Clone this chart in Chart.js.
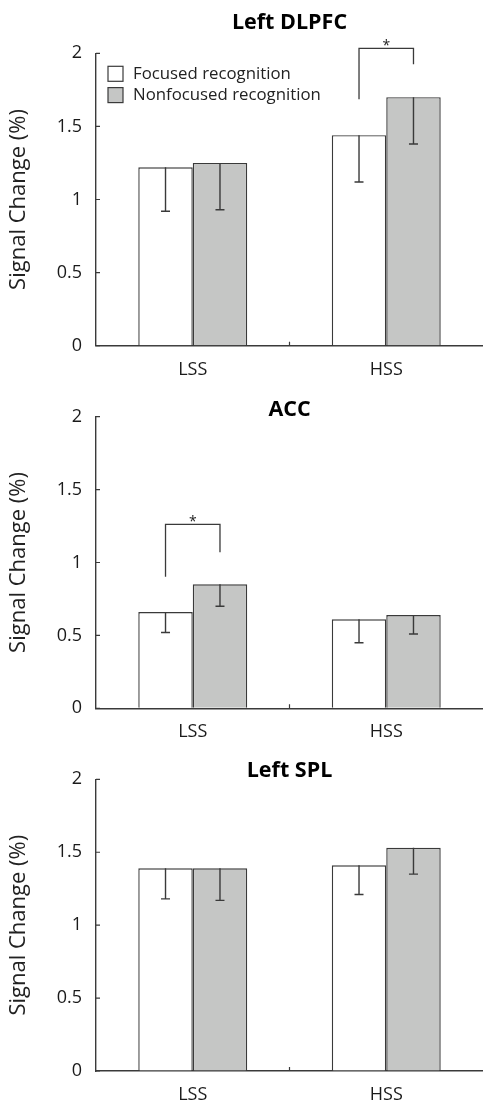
<!DOCTYPE html>
<html>
<head>
<meta charset="utf-8">
<script src="https://cdn.jsdelivr.net/npm/chart.js@4.4.1/dist/chart.umd.min.js"></script>
<style>
  body { margin: 0; background: #fff; width: 483px; height: 1104px; overflow: hidden; position: relative; }
  canvas { position: absolute; left: 0; }
</style>
</head>
<body>
<canvas id="c1" width="483" height="386" style="top:0"></canvas>
<canvas id="c2" width="483" height="362" style="top:386px"></canvas>
<canvas id="c3" width="483" height="356" style="top:748px"></canvas>
<script>
// data
const categories = ["LSS", "HSS"];
const seriesNames = ["Focused recognition", "Nonfocused recognition"];
const yTicks = [0, 0.5, 1, 1.5, 2];

const dlpfcFocused = [1.22, 1.44];
const dlpfcFocusedErr = [0.30, 0.32];
const dlpfcNonfocused = [1.25, 1.70];
const dlpfcNonfocusedErr = [0.32, 0.32];

const accFocused = [0.66, 0.61];
const accFocusedErr = [0.14, 0.16];
const accNonfocused = [0.85, 0.64];
const accNonfocusedErr = [0.15, 0.13];

const splFocused = [1.39, 1.41];
const splFocusedErr = [0.21, 0.20];
const splNonfocused = [1.39, 1.53];
const splNonfocusedErr = [0.22, 0.18];

// significance brackets: category, left leg bottom, bracket top, right leg bottom
const dlpfcBracket = [1, 1.685, 2.034, 1.925];
const accBracket = [0, 0.903, 1.262, 1.070];

const FONT = '"Open Sans", "DejaVu Sans", sans-serif';
const INK = "#3a3a3a";
const GREY = "#c5c6c5";

// error bars (lower half only, like the original)
const errorBars = {
  id: "errorBars",
  afterDatasetsDraw(chart) {
    const { ctx } = chart;
    const y = chart.scales.y;
    ctx.save();
    ctx.strokeStyle = INK;
    ctx.lineWidth = 1.4;
    chart.data.datasets.forEach((ds, i) => {
      chart.getDatasetMeta(i).data.forEach((bar, j) => {
        const top = y.getPixelForValue(ds.data[j]);
        const low = y.getPixelForValue(ds.data[j] - ds.errors[j]);
        ctx.beginPath();
        ctx.moveTo(bar.x, top);
        ctx.lineTo(bar.x, low);
        ctx.moveTo(bar.x - 4.5, low);
        ctx.lineTo(bar.x + 4.5, low);
        ctx.stroke();
      });
    });
    ctx.restore();
  }
};

// bracket with asterisk
const sigBracket = {
  id: "sigBracket",
  afterDatasetsDraw(chart, args, opts) {
    if (!opts.bracket) return;
    const [idx, lv, tv, rv] = opts.bracket;
    const { ctx } = chart;
    const y = chart.scales.y;
    const x1 = chart.getDatasetMeta(0).data[idx].x;
    const x2 = chart.getDatasetMeta(1).data[idx].x;
    const yt = y.getPixelForValue(tv);
    ctx.save();
    ctx.strokeStyle = INK;
    ctx.lineWidth = 1.3;
    ctx.beginPath();
    ctx.moveTo(x1, y.getPixelForValue(lv));
    ctx.lineTo(x1, yt);
    ctx.lineTo(x2, yt);
    ctx.lineTo(x2, y.getPixelForValue(rv));
    ctx.stroke();
    ctx.fillStyle = "#222";
    ctx.font = "14px " + FONT;
    ctx.textAlign = "center";
    ctx.textBaseline = "alphabetic";
    ctx.fillText("*", (x1 + x2) / 2, yt + 2);
    ctx.restore();
  }
};

// short inward ticks, matlab style
const inTicks = {
  id: "inTicks",
  afterDraw(chart) {
    const { ctx, chartArea } = chart;
    const y = chart.scales.y;
    const x = chart.scales.x;
    ctx.save();
    ctx.strokeStyle = INK;
    ctx.lineWidth = 1.2;
    ctx.beginPath();
    yTicks.forEach(v => {
      const py = y.getPixelForValue(v);
      ctx.moveTo(chartArea.left, py);
      ctx.lineTo(chartArea.left + 4, py);
    });
    for (let i = 0; i < categories.length - 1; i++) {
      const px = (x.getPixelForValue(i) + x.getPixelForValue(i + 1)) / 2;
      ctx.moveTo(px, chartArea.bottom);
      ctx.lineTo(px, chartArea.bottom - 4);
    }
    ctx.stroke();
    ctx.restore();
  }
};

// legend inside the plot area
const insetLegend = {
  id: "insetLegend",
  afterDraw(chart, args, opts) {
    if (!opts.display) return;
    const { ctx, chartArea } = chart;
    ctx.save();
    ctx.font = "16.8px " + FONT;
    ctx.textBaseline = "middle";
    chart.data.datasets.forEach((ds, i) => {
      const bx = chartArea.left + 12;
      const by = chartArea.top + 13 + i * 21.3;
      ctx.fillStyle = ds.backgroundColor;
      ctx.fillRect(bx, by, 15, 15);
      ctx.strokeStyle = INK;
      ctx.lineWidth = 1.2;
      ctx.strokeRect(bx, by, 15, 15);
      ctx.fillStyle = "#222";
      ctx.fillText(ds.label, bx + 25, by + 8);
    });
    ctx.restore();
  }
};

function makePanel(id, title, focused, focusedErr, nonfocused, nonfocusedErr, o) {
  return new Chart(document.getElementById(id), {
    type: "bar",
    data: {
      labels: categories,
      datasets: [
        { label: seriesNames[0], data: focused, errors: focusedErr, backgroundColor: "#ffffff",
          borderColor: INK, borderWidth: 1.4, borderSkipped: "bottom" },
        { label: seriesNames[1], data: nonfocused, errors: nonfocusedErr, backgroundColor: GREY,
          borderColor: INK, borderWidth: 1.4, borderSkipped: "bottom" }
      ]
    },
    options: {
      responsive: false,
      devicePixelRatio: 1,
      animation: false,
      layout: { padding: 0 },
      datasets: { bar: { categoryPercentage: 0.563, barPercentage: 1 } },
      plugins: {
        legend: { display: false },
        tooltip: { enabled: false },
        title: {
          display: true, text: title, fullSize: false, color: "#000",
          font: { family: FONT, size: 21.5, weight: "bold", lineHeight: 1.2 },
          padding: o.titlePad
        },
        insetLegend: { display: !!o.legend },
        sigBracket: { bracket: o.bracket || null }
      },
      scales: {
        x: {
          grid: { drawOnChartArea: false, drawTicks: false },
          border: { color: INK, width: 1.4 },
          ticks: { color: "#1a1a1a", font: { family: FONT, size: 18 }, padding: 13 },
          afterFit: s => { s.height = o.xHeight; }
        },
        y: {
          min: 0, max: 2,
          afterBuildTicks: s => { s.ticks = yTicks.map(v => ({ value: v })); },
          grid: { drawOnChartArea: false, drawTicks: false },
          border: { color: INK, width: 1.4 },
          ticks: { color: "#1a1a1a", font: { family: FONT, size: 18 }, padding: 14, callback: v => String(v) },
          title: { display: true, text: "Signal Change (%)", color: "#222",
                   font: { family: FONT, size: 22 }, padding: { top: 6, bottom: 0 } },
          afterFit: s => { s.width = 96; }
        }
      }
    },
    plugins: [errorBars, sigBracket, inTicks, insetLegend]
  });
}

makePanel("c1", "Left DLPFC", dlpfcFocused, dlpfcFocusedErr, dlpfcNonfocused, dlpfcNonfocusedErr,
  { titlePad: { top: 9.6, bottom: 17.9 }, xHeight: 40.3, legend: true, bracket: dlpfcBracket });
makePanel("c2", "ACC", accFocused, accFocusedErr, accNonfocused, accNonfocusedErr,
  { titlePad: { top: 11, bottom: -6.1 }, xHeight: 39.7, bracket: accBracket });
makePanel("c3", "Left SPL", splFocused, splFocusedErr, splNonfocused, splNonfocusedErr,
  { titlePad: { top: 10, bottom: -4.5 }, xHeight: 33 });
</script>
</body>
</html>
